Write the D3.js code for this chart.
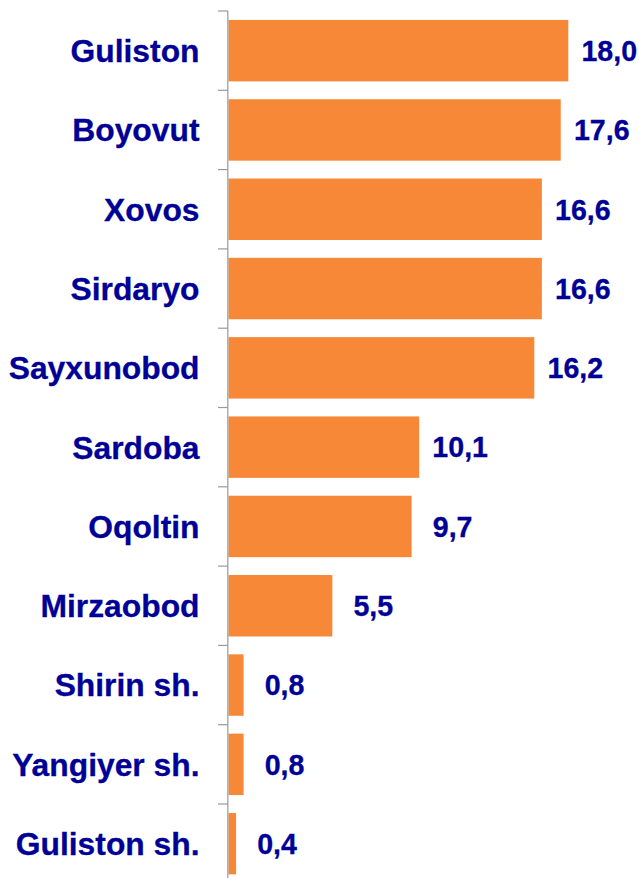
<!DOCTYPE html>
<html><head><meta charset="utf-8">
<script src="https://cdn.jsdelivr.net/npm/d3@7"></script>
<style>html,body{margin:0;padding:0;background:#fff;}svg{display:block;}</style>
</head><body>
<script>
const categories = ["Guliston","Boyovut","Xovos","Sirdaryo","Sayxunobod","Sardoba","Oqoltin","Mirzaobod","Shirin sh.","Yangiyer sh.","Guliston sh."];
const values = [18.0,17.6,16.6,16.6,16.2,10.1,9.7,5.5,0.8,0.8,0.4];
const valueLabels = ["18,0","17,6","16,6","16,6","16,2","10,1","9,7","5,5","0,8","0,8","0,4"];

const W = 639, H = 878;
const svg = d3.select("body").append("svg").attr("width", W).attr("height", H);

const y = d3.scaleBand().domain(categories).range([11, 883.3]).paddingInner(0.225).paddingOuter(0.1125);
const x = d3.scaleLinear().domain([0, 18]).range([228.5, 568.3]);
const navy = "#000096";
const orange = "#F68838";

svg.selectAll("rect.bar").data(categories).enter().append("rect")
  .attr("class","bar")
  .attr("x", x(0))
  .attr("y", d => y(d))
  .attr("width", (d,i) => x(values[i]) - x(0))
  .attr("height", y.bandwidth())
  .attr("fill", orange);

const step = y.step();
const tickYs = categories.map(d => y(d) - step * y.paddingInner() / 2);
svg.append("line").attr("x1", 227.8).attr("x2", 227.8).attr("y1", tickYs[0]).attr("y2", H)
  .attr("stroke", "#9a9a9a").attr("stroke-width", 1.2);
svg.selectAll("line.tick").data(tickYs).enter().append("line")
  .attr("class","tick")
  .attr("x1", 218).attr("x2", 228).attr("y1", d => d).attr("y2", d => d)
  .attr("stroke", "#9a9a9a").attr("stroke-width", 1.2);

svg.selectAll("text.cat").data(categories).enter().append("text")
  .attr("class","cat")
  .attr("x", 199.5)
  .attr("y", d => y(d) + y.bandwidth()/2)
  .attr("dy", "0.36em")
  .attr("text-anchor", "end")
  .attr("font-family", "Liberation Sans, Arial, sans-serif")
  .attr("font-weight", "bold")
  .attr("font-size", 31.8)
  .attr("fill", navy)
  .attr("stroke", navy).attr("stroke-width", 0.3)
  .text(d => d);

svg.selectAll("text.val").data(categories).enter().append("text")
  .attr("class","val")
  .attr("x", (d,i) => x(values[i]) + 41)
  .attr("y", d => y(d) + y.bandwidth()/2)
  .attr("dy", "0.36em")
  .attr("text-anchor", "middle")
  .attr("font-family", "Liberation Sans, Arial, sans-serif")
  .attr("font-weight", "bold")
  .attr("font-size", 28.6)
  .attr("fill", navy)
  .attr("stroke", navy).attr("stroke-width", 0.3)
  .text((d,i) => valueLabels[i]);
</script>
</body></html>
